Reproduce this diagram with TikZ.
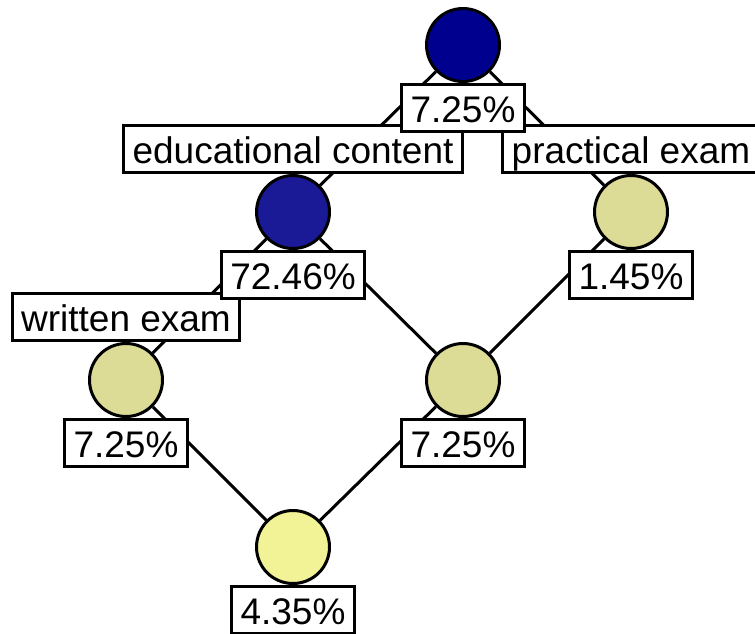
\documentclass[tikz,border=0pt]{standalone}
\usepackage{fontspec}
\setmainfont{Liberation Sans}
\usetikzlibrary{positioning}

\definecolor{topblue}{RGB}{0,0,142}
\definecolor{midblue}{RGB}{26,26,150}
\definecolor{olive}{RGB}{220,220,150}
\definecolor{paleyellow}{RGB}{242,242,150}

\begin{document}
\begin{tikzpicture}[x=1pt,y=-1pt,line width=3pt,
      concept/.style={draw=black,circle,minimum size=73pt,inner sep=0pt},
      lbl/.style={draw=black,fill=white,font=\fontsize{37}{40}\selectfont,
        text height=33pt,text depth=4pt,inner xsep=9pt,inner ysep=5pt}]
    \useasboundingbox (0,0) rectangle (755,633);
    % concepts
    \node (top) [concept,fill=topblue] at (463,45) {};
    \node (edu) [concept,fill=midblue] at (293,212) {};
    \node (practical) [concept,fill=olive] at (631,212) {};
    \node (written) [concept,fill=olive] at (126,380) {};
    \node (mid) [concept,fill=olive] at (463,380) {};
    \node (bottom) [concept,fill=paleyellow] at (293,547) {};
    % lines
    \draw (top) -- (edu);
    \draw (top) -- (practical);
    \draw (edu) -- (written);
    \draw (edu) -- (mid);
    \draw (practical) -- (mid);
    \draw (written) -- (bottom);
    \draw (mid) -- (bottom);
    % labels
    \node (eduname) [lbl,above=0pt of edu] {educational content};
    \node (practicalname) [lbl,above=0pt of practical] {practical exam};
    \node (writtenname) [lbl,above=0pt of written] {written exam};
    \node (topval) [lbl,below=0pt of top] {7.25\%};
    \node (eduval) [lbl,below=0pt of edu] {72.46\%};
    \node (practicalval) [lbl,below=0pt of practical] {1.45\%};
    \node (writtenval) [lbl,below=0pt of written] {7.25\%};
    \node (midval) [lbl,below=0pt of mid] {7.25\%};
    \node (bottomval) [lbl,below=0pt of bottom] {4.35\%};
  \end{tikzpicture}
\end{document}
